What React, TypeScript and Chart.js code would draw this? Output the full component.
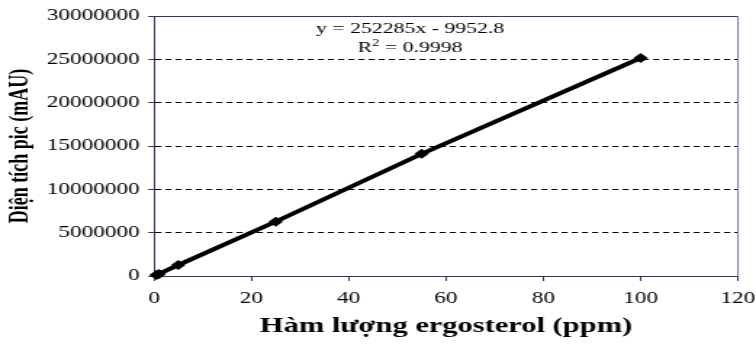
import React, { useEffect, useRef } from 'react';
import { Chart, registerables } from 'chart.js';

Chart.register(...registerables);

// ---- data ----
const concentrations = [0.5, 1, 5, 25, 55, 100];
const peakAreas = [110000, 240000, 1270000, 6270000, 14100000, 25150000];
const xTickValues = [0, 20, 40, 60, 80, 100, 120];
const yTickValues = [0, 5000000, 10000000, 15000000, 20000000, 25000000, 30000000];
const equationLine = 'y = 252285x - 9952.8';
const r2Value = '0.9998';
const xTitle = 'Hàm lượng ergosterol (ppm)';
const yTitle = 'Diện tích pic (mAU)';

// ---- layout (reference image is horizontally stretched) ----
const OUT_W = 756;
const H = 347;
const W = 521;
const SX = OUT_W / W;
const FONT = "'Liberation Serif', 'Times New Roman', serif";
const AXIS_COLOR = '#333366';

export default function App() {
  const ref = useRef<HTMLCanvasElement | null>(null);

  useEffect(() => {
    document.body.style.margin = '0';
    const canvas = ref.current!;
    const framePlugin = {
      id: 'frame',
      afterDraw(chart: any) {
        const { ctx, chartArea } = chart;
        ctx.save();
        ctx.strokeStyle = AXIS_COLOR;
        ctx.lineWidth = 1;
        ctx.beginPath();
        ctx.moveTo(chartArea.left, chartArea.top + 0.5);
        ctx.lineTo(chartArea.right, chartArea.top + 0.5);
        ctx.stroke();
        ctx.strokeStyle = '#7777aa';
        ctx.beginPath();
        ctx.moveTo(chartArea.right, chartArea.top);
        ctx.lineTo(chartArea.right, chartArea.bottom);
        ctx.stroke();

        // equation text
        const cx = 410 / SX;
        ctx.fillStyle = '#000';
        ctx.textBaseline = 'alphabetic';
        ctx.font = `15px ${FONT}`;
        ctx.textAlign = 'center';
        ctx.fillText(equationLine, cx, 33);
        // R^2 line
        ctx.textAlign = 'left';
        const rest = ' = ' + r2Value;
        const wR = ctx.measureText('R').width;
        const wRest = ctx.measureText(rest).width;
        ctx.font = `10px ${FONT}`;
        const w2 = ctx.measureText('2').width;
        const total = wR + w2 + wRest;
        let x = cx - total / 2;
        ctx.font = `15px ${FONT}`;
        ctx.fillText('R', x, 52);
        x += wR;
        ctx.font = `10px ${FONT}`;
        ctx.fillText('2', x, 46);
        x += w2;
        ctx.font = `15px ${FONT}`;
        ctx.fillText(rest, x, 52);
        ctx.restore();
      },
    };

    const chart = new Chart(canvas, {
      type: 'scatter',
      data: {
        datasets: [
          {
            data: concentrations.map((x, i) => ({ x, y: peakAreas[i] })),
            showLine: true,
            borderColor: '#000',
            backgroundColor: '#000',
            borderWidth: 4,
            pointStyle: 'rectRot',
            pointRadius: 5,
            pointBorderWidth: 0,
            clip: false as any,
          },
        ],
      },
      options: {
        responsive: false,
        animation: false,
        devicePixelRatio: 1,
        layout: { padding: { top: 16, right: 18 / SX, left: 0, bottom: 0 } },
        plugins: { legend: { display: false }, tooltip: { enabled: false } },
        scales: {
          x: {
            type: 'linear',
            min: 0,
            max: 120,
            afterBuildTicks: (s: any) => {
              s.ticks = xTickValues.map((v) => ({ value: v }));
            },
            afterFit: (s: any) => {
              s.height = 71;
              s.paddingLeft = 0;
              s.paddingRight = 0;
            },
            grid: {
              drawOnChartArea: false,
              drawTicks: true,
              tickLength: 5,
              tickColor: AXIS_COLOR,
              color: AXIS_COLOR,
            },
            border: { display: true, color: AXIS_COLOR, width: 1 },
            ticks: {
              color: '#000',
              font: { family: FONT, size: 16 },
              padding: 8,
              maxRotation: 0,
              autoSkip: false,
            },
            title: {
              display: true,
              text: xTitle,
              color: '#000',
              font: { family: FONT, size: 21, weight: 'bold' },
              padding: { top: 0, bottom: 8 },
            },
          },
          y: {
            type: 'linear',
            min: 0,
            max: 30000000,
            afterBuildTicks: (s: any) => {
              s.ticks = yTickValues.map((v) => ({ value: v }));
            },
            afterFit: (s: any) => {
              s.width = 154 / SX;
              s.paddingTop = 0;
              s.paddingBottom = 0;
            },
            grid: {
              drawOnChartArea: true,
              drawTicks: true,
              tickLength: 4,
              tickColor: AXIS_COLOR,
              tickBorderDash: [],
              color: (c: any) =>
                c.tick && (c.tick.value === 0 || c.tick.value === 30000000) ? 'rgba(0,0,0,0)' : '#000',
              lineWidth: 1,
            } as any,
            border: { display: true, color: AXIS_COLOR, width: 1, dash: [4.2, 2.8] },
            ticks: {
              color: '#000',
              font: { family: FONT, size: 16 },
              padding: 6,
              autoSkip: false,
              callback: (v: any) => String(v),
            },
            title: {
              display: true,
              text: yTitle,
              color: '#000',
              font: { family: FONT, size: 18, weight: 'bold' },
              padding: { top: 4, bottom: 0 },
            },
          },
        },
      },
      plugins: [framePlugin],
    } as any);

    return () => chart.destroy();
  }, []);

  return (
    <div style={{ width: OUT_W, height: H, overflow: 'hidden', background: '#fff' }}>
      <canvas
        ref={ref}
        width={W}
        height={H}
        style={{ width: `${OUT_W}px`, height: `${H}px`, display: 'block' }}
      />
    </div>
  );
}
